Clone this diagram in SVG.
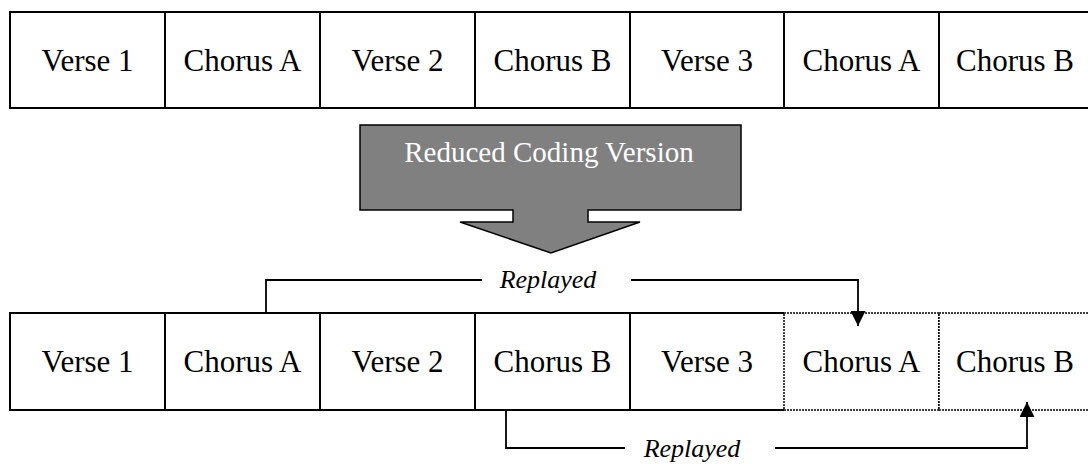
<svg xmlns="http://www.w3.org/2000/svg" width="1088" height="464" viewBox="0 0 1088 464">
<style>
.cell{fill:#fff;stroke:#000;stroke-width:2}
.dot{fill:#fff;stroke:#000;stroke-width:1.5;stroke-dasharray:2,1}
.lbl{font-family:"Liberation Serif","Times New Roman",serif;font-size:31px;fill:#000;text-anchor:middle}
.rep{font-family:"Liberation Serif","Times New Roman",serif;font-size:26px;font-style:italic;fill:#000;text-anchor:middle}
.conn{fill:none;stroke:#000;stroke-width:1.8}
</style>
<defs>
<marker id="ah" viewBox="0 0 15 15" refX="15" refY="7.5" markerWidth="15" markerHeight="15" orient="auto" markerUnits="userSpaceOnUse"><path d="M0,0 L15,7.5 L0,15 Z" fill="#000"/></marker>
</defs>
<rect width="1088" height="464" fill="#fff"/>
<g id="top-row">
<g id="t1"><rect class="cell" x="10" y="12" width="155" height="96"/><text class="lbl" x="87.5" y="71">Verse 1</text></g>
<g id="t2"><rect class="cell" x="165" y="12" width="155" height="96"/><text class="lbl" x="242.5" y="71">Chorus A</text></g>
<g id="t3"><rect class="cell" x="320" y="12" width="155" height="96"/><text class="lbl" x="397.5" y="71">Verse 2</text></g>
<g id="t4"><rect class="cell" x="475" y="12" width="155" height="96"/><text class="lbl" x="552.5" y="71">Chorus B</text></g>
<g id="t5"><rect class="cell" x="630" y="12" width="154" height="96"/><text class="lbl" x="707" y="71">Verse 3</text></g>
<g id="t6"><rect class="cell" x="784" y="12" width="155" height="96"/><text class="lbl" x="861.5" y="71">Chorus A</text></g>
<g id="t7"><rect class="cell" x="939" y="12" width="155" height="96"/><text class="lbl" x="1015" y="71">Chorus B</text></g>
</g>
<g id="reduce-arrow">
<path d="M360,125 H741 V210 H588 V222 H640 L551,253 L460,222 H513 V210 H360 Z" fill="#808080" stroke="#000" stroke-width="1.5"/>
<text x="549" y="162" font-family="'Liberation Serif','Times New Roman',serif" font-size="29" fill="#fff" text-anchor="middle">Reduced Coding Version</text>
</g>
<g id="bottom-row">
<g id="b1"><rect class="cell" x="10" y="313" width="155" height="97"/><text class="lbl" x="87.5" y="372">Verse 1</text></g>
<g id="b2"><rect class="cell" x="165" y="313" width="155" height="97"/><text class="lbl" x="242.5" y="372">Chorus A</text></g>
<g id="b3"><rect class="cell" x="320" y="313" width="155" height="97"/><text class="lbl" x="397.5" y="372">Verse 2</text></g>
<g id="b4"><rect class="cell" x="475" y="313" width="155" height="97"/><text class="lbl" x="552.5" y="372">Chorus B</text></g>
<g id="b5"><path class="cell" d="M784,313 H630 V410 H784"/><text class="lbl" x="707" y="372">Verse 3</text></g>
<g id="b6"><rect class="dot" x="784" y="313" width="155" height="97"/><text class="lbl" x="861.5" y="372">Chorus A</text></g>
<g id="b7"><rect class="dot" x="939" y="313" width="155" height="97"/><text class="lbl" x="1015" y="372">Chorus B</text></g>
</g>
<g id="connectors">
<path class="conn" d="M266,313 V280 H482 M631,280 H858 V326" marker-end="url(#ah)"/>
<text class="rep" x="548" y="288">Replayed</text>
<path class="conn" d="M506,411 V448 H625 M775,448 H1027 V402" marker-end="url(#ah)"/>
<text class="rep" x="692" y="457">Replayed</text>
</g>
</svg>
